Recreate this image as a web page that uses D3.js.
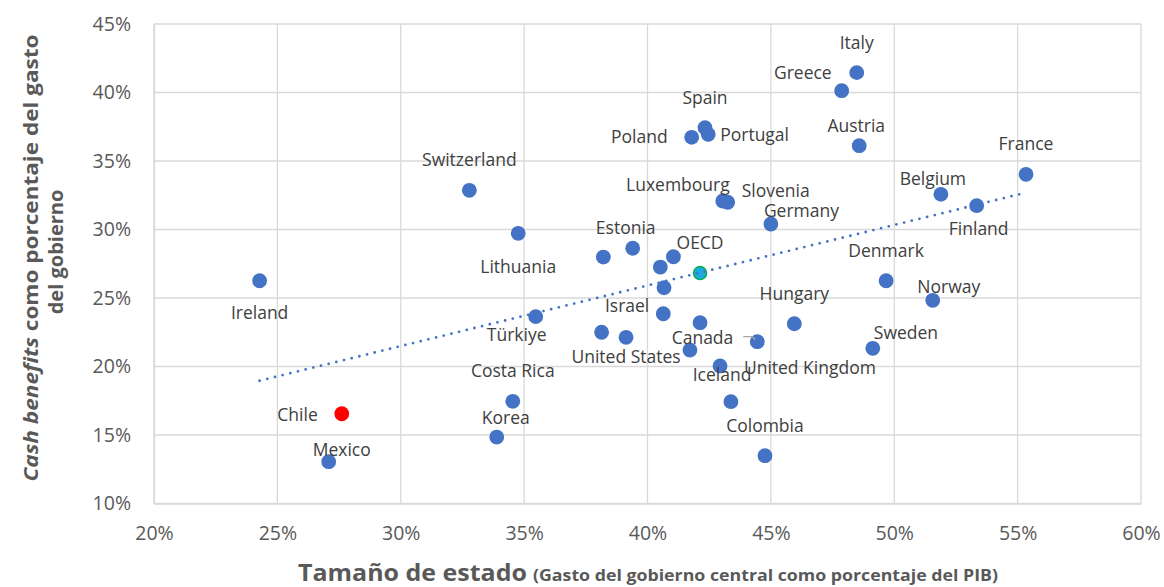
<!DOCTYPE html>
<html>
<head>
<meta charset="utf-8">
<script src="https://cdn.jsdelivr.net/npm/d3@7"></script>
<style>
    body { margin: 0; background: white; }
    svg { display: block; }
</style>
</head>
<body>
<div id="chart"></div>
<script>
// data (percent)
var countries = ["Italy","Greece","Spain","Portugal","Poland","Austria","France","Belgium","Finland",
    "Switzerland","Luxembourg","Slovenia","Germany","Lithuania",null,"Estonia",null,null,"OECD",null,
    "Hungary","Denmark","Norway","Sweden","Israel",null,null,"United States",null,"Canada",
    "Iceland","United Kingdom","Colombia","Costa Rica","Korea","Türkiye","Ireland","Chile","Mexico"];
var govSize = [48.48,47.87,42.33,42.46,41.79,48.58,55.34,51.89,53.34,
    32.78,43.05,43.25,45.00,34.76,38.21,39.40,41.05,40.52,42.13,40.67,
    45.95,49.67,51.56,49.13,40.64,42.13,38.14,39.13,41.72,44.45,
    42.94,43.38,44.76,34.54,33.89,35.47,24.28,27.61,27.08];
var cashBenefits = [41.45,40.13,37.43,36.95,36.73,36.12,34.03,32.57,31.74,
    32.86,32.08,31.99,30.40,29.72,27.99,28.63,28.01,27.26,26.82,25.75,
    23.12,26.26,24.83,21.33,23.85,23.20,22.50,22.13,21.20,21.81,
    20.04,17.43,13.49,17.46,14.85,23.64,26.26,16.55,13.05];

var trendX = [24.28, 55.34];
var trendY = [18.96, 32.69];

var xTicks = [20,25,30,35,40,45,50,55,60];
var yTicks = [10,15,20,25,30,35,40,45];

// label placement relative to the point: dx, dy, anchor
var labelOffset = {
    "Italy":[0,-30,"middle"], "Greece":[-10,-18,"end"], "Spain":[0,-30,"middle"],
    "Portugal":[12,1,"start"], "Poland":[-24,0,"end"], "Austria":[-3,-20,"middle"],
    "France":[0,-30,"middle"], "Belgium":[-8,-15,"middle"], "Finland":[2,23,"middle"],
    "Switzerland":[0,-30,"middle"], "Luxembourg":[7,-16,"end"], "Slovenia":[14,-11,"start"],
    "Germany":[-7,-13,"start"], "Lithuania":[0,34,"middle"], "Estonia":[-7,-20,"middle"],
    "OECD":[0,-30,"middle"], "Hungary":[0,-30,"middle"], "Denmark":[0,-30,"middle"],
    "Norway":[16,-13,"middle"], "Sweden":[1,-15,"start"], "Israel":[-14,-8,"end"],
    "United States":[0,20,"middle"], "Canada":[-24,-4,"end"], "Iceland":[2,9,"middle"],
    "United Kingdom":[13,-34,"start"], "Colombia":[0,-30,"middle"], "Costa Rica":[0,-30,"middle"],
    "Korea":[9,-19,"middle"], "Türkiye":[-19,18,"middle"], "Ireland":[0,32,"middle"],
    "Chile":[-24,1,"end"], "Mexico":[-16,-12,"start"]
};

var W = 1164, H = 587;
var FONT = "'Open Sans', 'Noto Sans', sans-serif";

var svg = d3.select("#chart").append("svg")
    .attr("width", W)
    .attr("height", H)
    .style("font-family", FONT);

var x = d3.scaleLinear().domain([20,60]).range([154,1141]);
var y = d3.scaleLinear().domain([10,45]).range([503.5,24]);

var points = countries.map(function(c,i){
    return {name: c, x: govSize[i], y: cashBenefits[i]};
});

// gridlines
svg.append("g").selectAll("line.v")
    .data(xTicks)
    .enter().append("line")
    .attr("x1", function(d){ return x(d); })
    .attr("x2", function(d){ return x(d); })
    .attr("y1", y(10))
    .attr("y2", y(45))
    .style("stroke", "#d9d9d9")
    .style("stroke-width", 1.3);

svg.append("g").selectAll("line.h")
    .data(yTicks)
    .enter().append("line")
    .attr("x1", x(20))
    .attr("x2", x(60))
    .attr("y1", function(d){ return y(d); })
    .attr("y2", function(d){ return y(d); })
    .style("stroke", "#d9d9d9")
    .style("stroke-width", 1.3);

// axes
var xAxis = svg.append("g")
    .attr("transform", "translate(0," + y(10) + ")")
    .call(d3.axisBottom(x).tickValues(xTicks).tickSize(0).tickPadding(23).tickFormat(function(d){ return d + "%"; }));
var yAxis = svg.append("g")
    .attr("transform", "translate(" + x(20) + ",0)")
    .call(d3.axisLeft(y).tickValues(yTicks).tickSize(0).tickPadding(23).tickFormat(function(d){ return d + "%"; }));

[xAxis, yAxis].forEach(function(a){
    a.select(".domain").style("stroke", "#d9d9d9").style("stroke-width", 1.3);
    a.selectAll("text")
        .style("font-family", FONT)
        .style("font-size", "19.5px")
        .style("fill", "#595959");
});

// OECD point sits under the trendline
var oecd = points.filter(function(d){ return d.name == "OECD"; });
svg.append("g").selectAll("circle")
    .data(oecd)
    .enter().append("circle")
    .attr("cx", function(d){ return x(d.x); })
    .attr("cy", function(d){ return y(d.y); })
    .attr("r", 6.5)
    .style("fill", "#1fa8e0")
    .style("stroke", "#00b050")
    .style("stroke-width", 1.5);

// trendline
svg.append("path")
    .datum(trendX.map(function(v,i){ return [v, trendY[i]]; }))
    .attr("d", d3.line().x(function(d){ return x(d[0]); }).y(function(d){ return y(d[1]); }))
    .style("fill", "none")
    .style("stroke", "#4472c4")
    .style("stroke-width", 2.8)
    .style("stroke-linecap", "round")
    .style("stroke-dasharray", "0,7.9");

// other points
svg.append("g").selectAll("circle")
    .data(points.filter(function(d){ return d.name != "OECD"; }))
    .enter().append("circle")
    .attr("cx", function(d){ return x(d.x); })
    .attr("cy", function(d){ return y(d.y); })
    .attr("r", 7.4)
    .style("fill", function(d){ return d.name == "Chile" ? "#ff0000" : "#4472c4"; });

// Canada leader line
var canada = points.filter(function(d){ return d.name == "Canada"; })[0];
svg.append("path")
    .attr("d", "M" + (x(canada.x) - 14) + "," + (y(canada.y) - 5) +
        "h9 l3,3")
    .style("fill", "none")
    .style("stroke", "#a6a6a6")
    .style("stroke-width", 1.3);

// labels
svg.append("g").selectAll("text")
    .data(points.filter(function(d){ return d.name && labelOffset[d.name]; }))
    .enter().append("text")
    .attr("x", function(d){ return x(d.x) + labelOffset[d.name][0]; })
    .attr("y", function(d){ return y(d.y) + labelOffset[d.name][1]; })
    .attr("dy", "0.35em")
    .attr("text-anchor", function(d){ return labelOffset[d.name][2]; })
    .style("font-size", "17.5px")
    .style("fill", "#404040")
    .text(function(d){ return d.name; });

// axis titles
var xTitle = svg.append("text")
    .attr("x", 648)
    .attr("y", 581)
    .attr("text-anchor", "middle")
    .style("font-weight", "bold")
    .style("fill", "#595959");
xTitle.append("tspan").style("font-size", "23px")
    .attr("textLength", 229).attr("lengthAdjust", "spacingAndGlyphs")
    .text("Tamaño de estado");
xTitle.append("tspan").style("font-size", "16.5px").attr("dx", 6)
    .attr("textLength", 465).attr("lengthAdjust", "spacingAndGlyphs")
    .text("(Gasto del gobierno central como porcentaje del PIB)");

var yTitle = svg.append("text")
    .attr("transform", "translate(38,258) rotate(-90)")
    .attr("text-anchor", "middle")
    .attr("textLength", 447)
    .attr("lengthAdjust", "spacingAndGlyphs")
    .style("font-weight", "bold")
    .style("font-size", "20px")
    .style("fill", "#595959");
yTitle.append("tspan").style("font-style", "italic").text("Cash benefits");
yTitle.append("tspan").text(" como porcentaje del gasto");
svg.append("text")
    .attr("transform", "translate(63,252) rotate(-90)")
    .attr("text-anchor", "middle")
    .style("font-weight", "bold")
    .style("font-size", "20px")
    .style("fill", "#595959")
    .text("del gobierno");
</script>
</body>
</html>
